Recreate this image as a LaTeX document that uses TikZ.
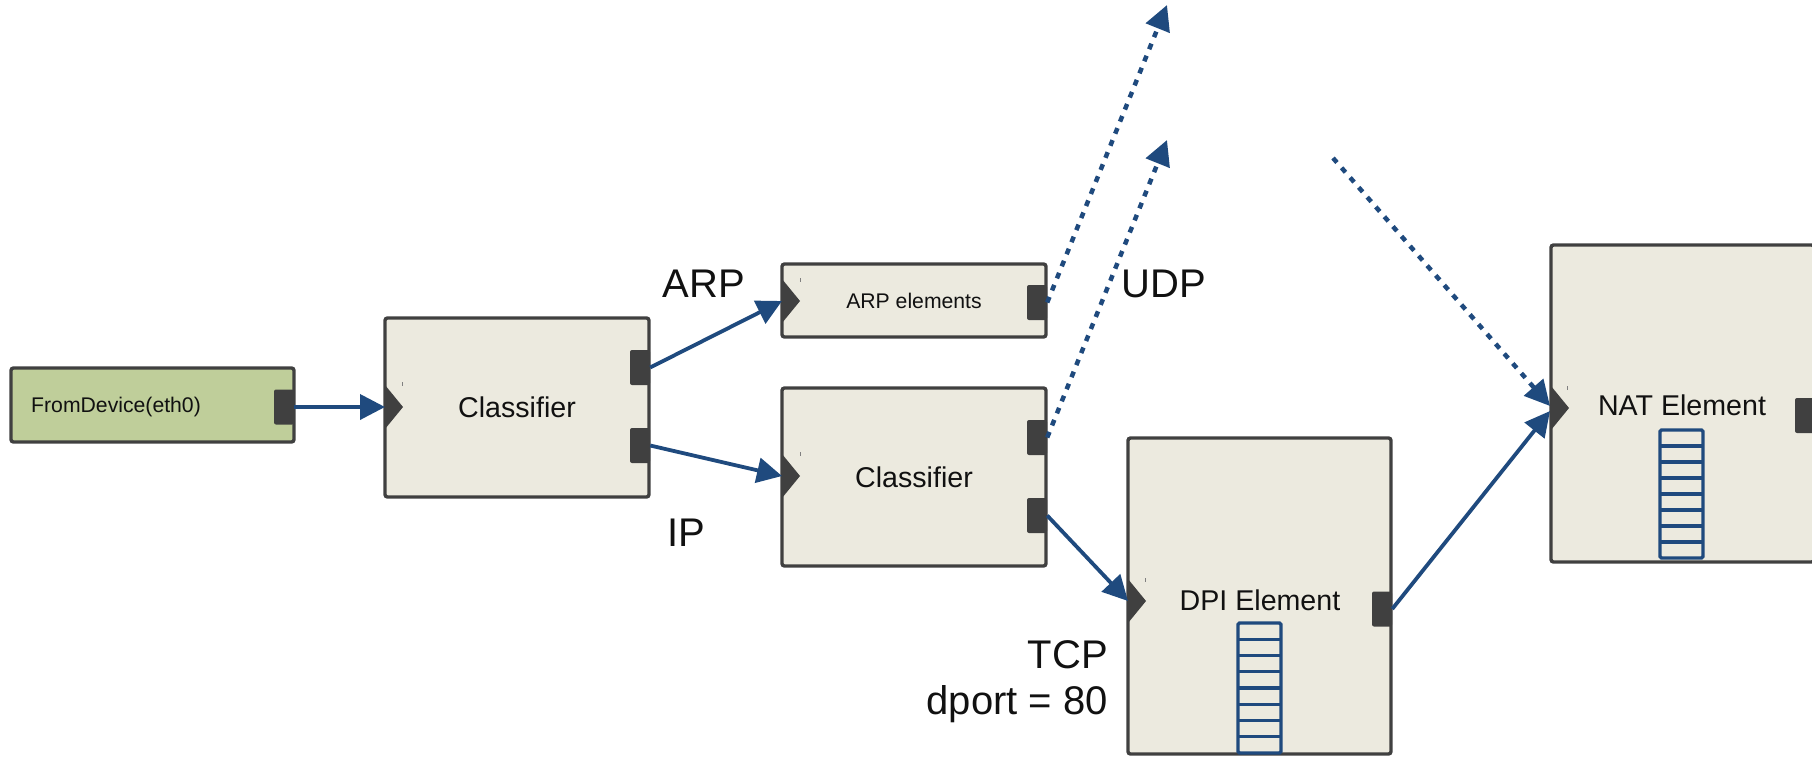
\documentclass[tikz,border=0pt]{standalone}
\usepackage{fontspec}
\setmainfont{Liberation Sans}
\usetikzlibrary{arrows.meta,calc}
\definecolor{boxfill}{HTML}{ECEADF}
\definecolor{devgreen}{HTML}{BFCE9A}
\definecolor{bordergray}{HTML}{404040}
\definecolor{flowblue}{HTML}{1F4A7E}
\definecolor{txt}{HTML}{111111}
\tikzset{
  elem/.style={draw=bordergray, fill=boxfill, line width=3.4pt, rounded corners=2.5pt, inner sep=0pt, text=txt},
  devbox/.style={elem, fill=devgreen},
  portbox/.style={fill=bordergray, rounded corners=2pt, minimum width=20pt, minimum height=35pt, inner sep=0pt},
  flow/.style={draw=flowblue, line width=3.8pt, -{Triangle[length=25pt,width=25pt]}},
  dotflow/.style={flow, line width=4.5pt, dash pattern=on 6pt off 7pt},
  queue/.style={draw=flowblue, line width=3.3pt},
  tick/.style={draw=gray, line width=0.8pt},
  lbl/.style={font=\fontsize{40}{46}\selectfont, text=txt, inner sep=0pt},
  bigtxt/.style={font=\fontsize{28.6}{34}\selectfont},
  smalltxt/.style={font=\fontsize{21.2}{26}\selectfont},
}
\newcommand{\inputtri}[1]{\fill[bordergray] ($(#1)+(0,-22)$) -- ($(#1)+(18,0)$) -- ($(#1)+(0,22)$) -- cycle;}
\begin{document}
\begin{tikzpicture}[x=1pt,y=-1pt]
\useasboundingbox (0,0) rectangle (1812,756);
\clip (0,0) rectangle (1812,756);

% boxes
\node[devbox, minimum width=283pt, minimum height=74pt] (fd) at (152.5,405) {};
\node[smalltxt, anchor=west, inner sep=0pt, text=txt] (fdt) at (31,407) {FromDevice(eth0)};
\node[elem, bigtxt, minimum width=264pt, minimum height=179pt] (c1) at (517,407.5) {Classifier};
\node[elem, smalltxt, minimum width=264pt, minimum height=73pt] (arp) at (914,300.5) {ARP elements};
\node[elem, bigtxt, minimum width=264pt, minimum height=178pt] (c2) at (914,477) {Classifier};
\node[elem, bigtxt, minimum width=263pt, minimum height=316pt] (dpi) at (1259.5,596) {};
\node[bigtxt, text=txt, inner sep=0pt] (dpit) at (1260,600) {DPI Element};
\node[elem, bigtxt, minimum width=263pt, minimum height=317pt] (nat) at (1682.5,403.5) {};
\node[bigtxt, text=txt, inner sep=0pt] (natt) at (1682,405) {NAT Element};

% queues
\draw[queue, rounded corners=1.5pt] (1238,623) rectangle (1281,753);
\foreach \i in {1,...,7} \draw[queue] (1238,623+\i*16.25) -- (1281,623+\i*16.25);
\draw[queue, rounded corners=1.5pt] (1660,430) rectangle (1703,558);
\foreach \i in {1,...,7} \draw[queue] (1660,430+\i*16) -- (1703,430+\i*16);

% output ports
\node[portbox] (fdo) at (284,407) {};
\node[portbox] (c1o1) at (640,367.5) {};
\node[portbox] (c1o2) at (640,445.5) {};
\node[portbox] (arpo) at (1037,302.5) {};
\node[portbox] (c2o1) at (1037,437.5) {};
\node[portbox] (c2o2) at (1037,515.5) {};
\node[portbox] (dpio) at (1382,609) {};
\node[portbox] (nato) at (1805,415.5) {};

% input ports
\coordinate (c1in) at (385,407);
\coordinate (arpin) at (782,301);
\coordinate (c2in) at (782,476);
\coordinate (dpiin) at (1128,601);
\coordinate (natin) at (1551,408);
\inputtri{c1in}
\inputtri{arpin}
\inputtri{c2in}
\inputtri{dpiin}
\inputtri{natin}

% tiny marks
\draw[tick] (402,382) -- (402,386);
\draw[tick] (800,278) -- (800,282);
\draw[tick] (800,452) -- (800,456);
\draw[tick] (1145,578) -- (1145,582);
\draw[tick] (1567,386) -- (1567,390);

% free ends
\coordinate (up1) at (1167,5);
\coordinate (up2) at (1167,140);
\coordinate (natfrom) at (1333,158);

% connectors
\draw[flow] (fdo.east) -- (c1in);
\draw[flow] (c1o1.east) -- (arpin);
\draw[flow] (c1o2.east) -- (c2in);
\draw[flow] (c2o2.east) -- (dpiin);
\draw[flow] (dpio.east) -- ($(natin)+(-1,3)$);
\draw[dotflow] (arpo.east) -- (up1);
\draw[dotflow] (c2o1.east) -- (up2);
\draw[dotflow] (natfrom) -- ($(natin)+(-1,-2)$);

% labels
\node[lbl] (larp) at (704,284) {ARP};
\node[lbl] (lip) at (686,533) {IP};
\node[lbl] (ludp) at (1164,284) {UDP};
\node[lbl, anchor=east] (ltcp) at (1108,655) {TCP};
\node[lbl, anchor=east] (ldport) at (1108,704) {dport = 80};
\end{tikzpicture}
\end{document}
